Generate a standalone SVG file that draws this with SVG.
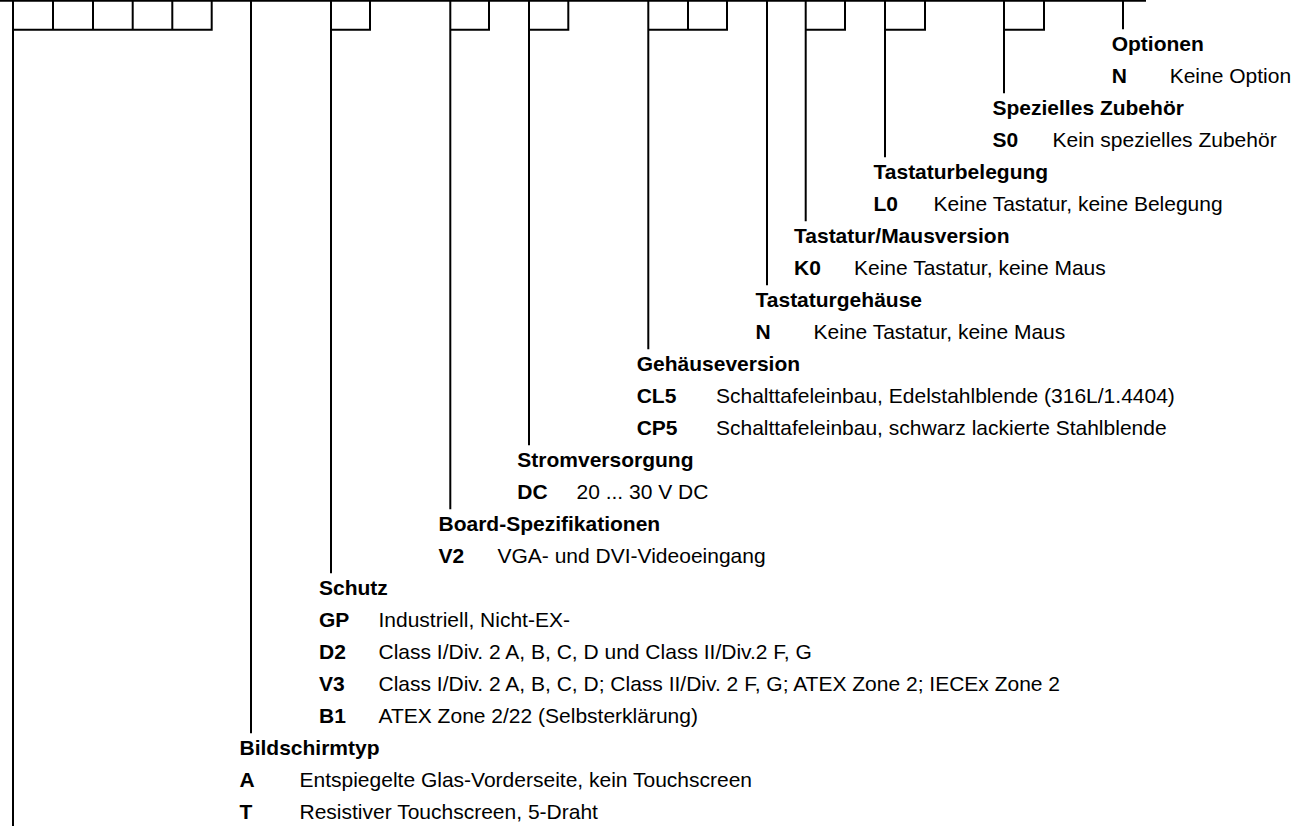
<svg xmlns="http://www.w3.org/2000/svg" width="1308" height="826" viewBox="0 0 1308 826">
<style>
text{font-family:"Liberation Sans",Arial,sans-serif;font-size:21px;fill:#000}
.h,.c{font-weight:bold}
.ln{stroke:#000;stroke-width:2;fill:none;stroke-linecap:butt}
</style>
<rect width="1308" height="826" fill="#fff"/>
<g id="connectors" class="ln">
<path d="M0 0.7H1146"/>
<path d="M13 0V826M53 0V29.7M93 0V29.7M132.7 0V29.7M172.3 0V29.7M211.7 0V29.7M13 29.7H212.7"/>
<path d="M251 0V733.3"/>
<path d="M331 0V573.3M370 0V29.7M331 29.7H371"/>
<path d="M450.3 0V509.3M489 0V29.7M450.3 29.7H490"/>
<path d="M529 0V445.3M568.3 0V29.7M529 29.7H569.3"/>
<path d="M648.3 0V349.3M688 0V29.7M727 0V29.7M648.3 29.7H728"/>
<path d="M767 0V285.3"/>
<path d="M805.7 0V221.3M845 0V29.7M805.7 29.7H846"/>
<path d="M885 0V157.3M925 0V29.7M885 29.7H926"/>
<path d="M1004 0V93.3M1044 0V29.7M1004 29.7H1045"/>
<path d="M1123 0V29.3"/>
</g>
<g id="optionen">
<text class="h" x="1111.7" y="51.3">Optionen</text>
<text class="c" x="1111.7" y="83.3">N</text><text x="1169.7" y="83.3">Keine Option</text>
</g>
<g id="zubehoer">
<text class="h" x="992.5" y="115.3">Spezielles Zubehör</text>
<text class="c" x="992.5" y="147.3">S0</text><text x="1052.5" y="147.3">Kein spezielles Zubehör</text>
</g>
<g id="tastaturbelegung">
<text class="h" x="873.5" y="179.3">Tastaturbelegung</text>
<text class="c" x="873.5" y="211.3">L0</text><text x="933.5" y="211.3">Keine Tastatur, keine Belegung</text>
</g>
<g id="mausversion">
<text class="h" x="794" y="243.3">Tastatur/Mausversion</text>
<text class="c" x="794" y="275.3">K0</text><text x="854" y="275.3">Keine Tastatur, keine Maus</text>
</g>
<g id="tastaturgehaeuse">
<text class="h" x="755.5" y="307.3">Tastaturgehäuse</text>
<text class="c" x="755.5" y="339.3">N</text><text x="813.5" y="339.3">Keine Tastatur, keine Maus</text>
</g>
<g id="gehaeuseversion">
<text class="h" x="636.7" y="371.3">Gehäuseversion</text>
<text class="c" x="636.7" y="403.3">CL5</text><text x="716" y="403.3">Schalttafeleinbau, Edelstahlblende (316L/1.4404)</text>
<text class="c" x="636.7" y="435.3">CP5</text><text x="716" y="435.3">Schalttafeleinbau, schwarz lackierte Stahlblende</text>
</g>
<g id="stromversorgung">
<text class="h" x="517.3" y="467.3">Stromversorgung</text>
<text class="c" x="517.3" y="499.3">DC</text><text x="576.5" y="499.3">20 ... 30 V DC</text>
</g>
<g id="board">
<text class="h" x="438.5" y="531.3">Board-Spezifikationen</text>
<text class="c" x="438.5" y="563.3">V2</text><text x="497.5" y="563.3">VGA- und DVI-Videoeingang</text>
</g>
<g id="schutz">
<text class="h" x="319" y="595.3">Schutz</text>
<text class="c" x="319" y="627.3">GP</text><text x="378.5" y="627.3">Industriell, Nicht-EX-</text>
<text class="c" x="319" y="659.3">D2</text><text x="378.5" y="659.3">Class I/Div. 2 A, B, C, D und Class II/Div.2 F, G</text>
<text class="c" x="319" y="691.3">V3</text><text x="378.5" y="691.3">Class I/Div. 2 A, B, C, D; Class II/Div. 2 F, G; ATEX Zone 2; IECEx Zone 2</text>
<text class="c" x="319" y="723.3">B1</text><text x="378.5" y="723.3">ATEX Zone 2/22 (Selbsterklärung)</text>
</g>
<g id="bildschirmtyp">
<text class="h" x="239.5" y="755.3">Bildschirmtyp</text>
<text class="c" x="239.5" y="787.3">A</text><text x="299.5" y="787.3">Entspiegelte Glas-Vorderseite, kein Touchscreen</text>
<text class="c" x="239.5" y="819.3">T</text><text x="299.5" y="819.3">Resistiver Touchscreen, 5-Draht</text>
</g>
</svg>
